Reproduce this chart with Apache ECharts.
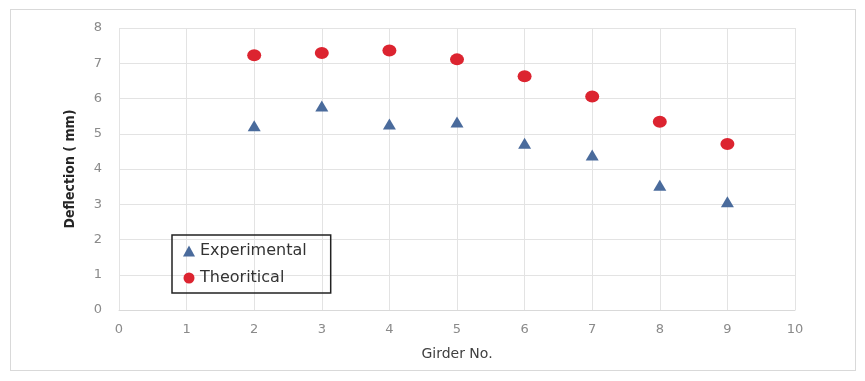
<!DOCTYPE html>
<html><head><meta charset="utf-8">
<script src="https://cdn.jsdelivr.net/npm/echarts@6/dist/echarts.min.js"></script>
<style>html,body{margin:0;padding:0;background:#fff}#c{width:865px;height:381px}
#frame{position:absolute;left:10px;top:9px;width:844px;height:360px;border:1px solid #d9d9d9;pointer-events:none}</style>
</head><body><div id="c"></div><div id="frame"></div>
<script>
const girders = [2, 3, 4, 5, 6, 7, 8, 9];
const experimental = [5.23, 5.79, 5.28, 5.33, 4.73, 4.40, 3.54, 3.07];
const theoretical = [7.23, 7.29, 7.36, 7.11, 6.63, 6.06, 5.34, 4.71];
const xTicks = [0, 10, 1];
const yTicks = [0, 8, 1];

const chart = echarts.init(document.getElementById('c'));
const lbl = {color: '#8a8a8a', fontSize: 13, fontFamily: 'DejaVu Sans, sans-serif'};
chart.setOption({
  animation: false,
  grid: {left: 119, right: 70, top: 28, bottom: 71},
  xAxis: {
    type: 'value', min: xTicks[0], max: xTicks[1], interval: xTicks[2],
    name: 'Girder No.', nameLocation: 'middle', nameGap: 37,
    nameTextStyle: {color: '#404040', fontSize: 14, fontFamily: 'DejaVu Sans, sans-serif'},
    axisLine: {show: true, lineStyle: {color: '#d9d9d9'}},
    axisTick: {show: false},
    axisLabel: Object.assign({margin: 13}, lbl),
    splitLine: {show: true, lineStyle: {color: '#e3e3e3'}}
  },
  yAxis: {
    type: 'value', min: yTicks[0], max: yTicks[1], interval: yTicks[2],
    name: 'Deflection ( mm)', nameLocation: 'middle', nameGap: 42,
    nameTextStyle: {color: '#262626', fontSize: 14, fontWeight: 'bold', fontFamily: 'DejaVu Sans Condensed, sans-serif'},
    axisLine: {show: false},
    axisTick: {show: false},
    axisLabel: Object.assign({margin: 17}, lbl),
    splitLine: {show: true, lineStyle: {color: '#e3e3e3'}}
  },
  legend: {
    orient: 'vertical', left: 172, top: 235,
    padding: [8, 24, 7, 11], itemGap: 11,
    borderColor: '#222', borderWidth: 1.5,
    itemWidth: 12, itemHeight: 11,
    textStyle: {color: '#333', fontSize: 16, fontFamily: 'DejaVu Sans, sans-serif'},
    data: [{name: 'Experimental', icon: 'triangle'}, {name: 'Theoritical', icon: 'circle'}]
  },
  series: [
    {name: 'Experimental', type: 'scatter', symbol: 'triangle', symbolSize: [13, 11],
     itemStyle: {color: '#4a6b9c', opacity: 1}, data: girders.map((g, i) => [g, experimental[i]])},
    {name: 'Theoritical', type: 'scatter', symbol: 'circle', symbolSize: [14, 12],
     itemStyle: {color: '#dc2430', opacity: 1}, data: girders.map((g, i) => [g, theoretical[i]])}
  ]
});
</script></body></html>
